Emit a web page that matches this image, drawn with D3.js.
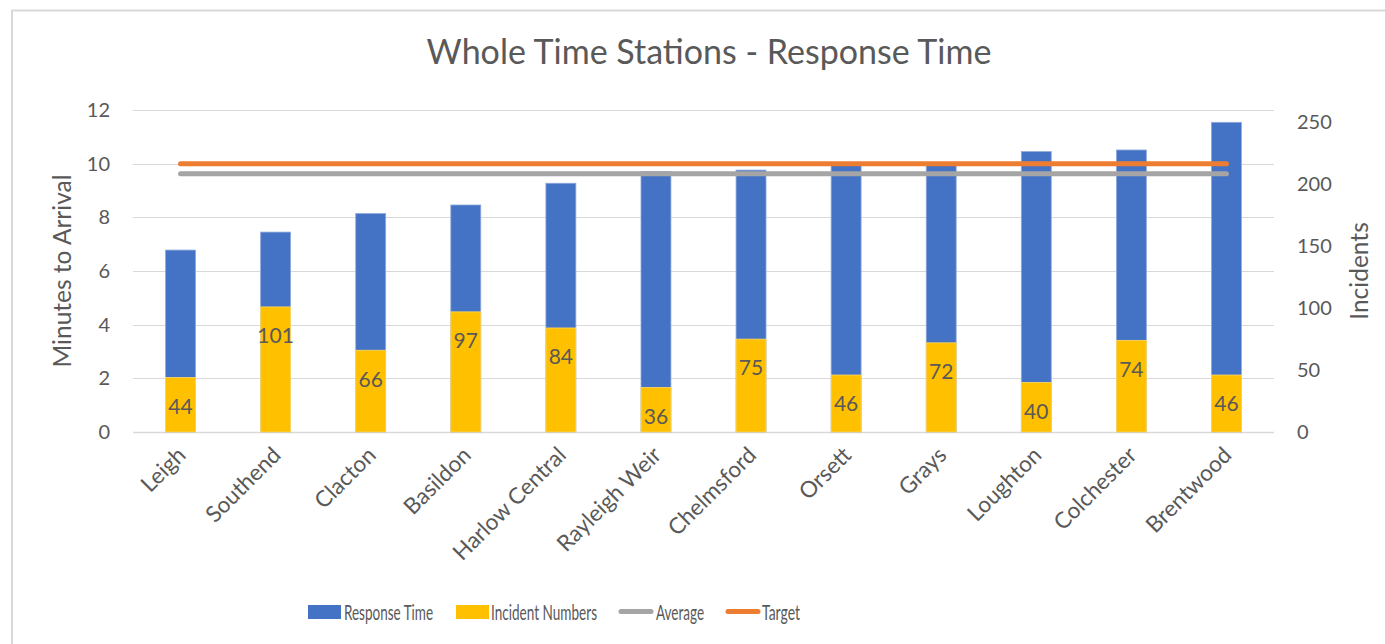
<!DOCTYPE html>
<html>
<head>
<meta charset="utf-8">
<script src="https://cdn.jsdelivr.net/npm/d3@7"></script>
<style>
  html, body { margin: 0; padding: 0; background: #fff; }
  svg { display: block; }
  text { font-family: Lato, "Open Sans", sans-serif; fill: #595959; }
</style>
</head>
<body>
<svg id="chart" width="1385" height="644"></svg>
<script>
const categories = ["Leigh", "Southend", "Clacton", "Basildon", "Harlow Central", "Rayleigh Weir",
  "Chelmsford", "Orsett", "Grays", "Loughton", "Colchester", "Brentwood"];
const responseTime = [6.78, 7.45, 8.14, 8.46, 9.27, 9.70, 9.76, 9.95, 9.98, 10.45, 10.51, 11.54];
const incidentNumbers = [44, 101, 66, 97, 84, 36, 75, 46, 72, 40, 74, 46];
const average = [9.62, 9.62, 9.62, 9.62, 9.62, 9.62, 9.62, 9.62, 9.62, 9.62, 9.62, 9.62];
const target = [10, 10, 10, 10, 10, 10, 10, 10, 10, 10, 10, 10];
const leftTicks = [0, 2, 4, 6, 8, 10, 12];
const rightTicks = [0, 50, 100, 150, 200, 250];

const colors = { resp: "#4472C4", inc: "#FFC000", avg: "#A5A5A5", tgt: "#ED7D31" };

const svg = d3.select("#chart");
const L = 133, R = 1274, T = 110, B = 432;

// border
svg.append("rect").attr("x", 12).attr("y", 10.5).attr("width", 1400).attr("height", 700)
  .attr("fill", "none").attr("stroke", "#d9d9d9").attr("stroke-width", 2);

const x = d3.scaleBand().domain(categories).range([L, R]).padding(0);
const barW = x.bandwidth() * 0.315;
const yL = d3.scaleLinear().domain([0, 12]).range([B, T]);
const yR = d3.scaleLinear().domain([0, 260]).range([B, T]);

// gridlines
svg.append("g").selectAll("line").data(leftTicks).join("line")
  .attr("x1", L).attr("x2", R)
  .attr("y1", d => Math.round(yL(d)) + 0.5).attr("y2", d => Math.round(yL(d)) + 0.5)
  .attr("stroke", "#d9d9d9").attr("stroke-width", d => d === 0 ? 1.5 : 1);

// left axis
const axL = svg.append("g").attr("transform", `translate(${L},0)`)
  .call(d3.axisLeft(yL).tickValues(leftTicks).tickSize(0).tickPadding(23));
axL.select(".domain").remove();
axL.selectAll("text").style("font-size", "20px").attr("fill", "#595959").style("font-family", "Lato");

// right axis
const axR = svg.append("g").attr("transform", `translate(${R},0)`)
  .call(d3.axisRight(yR).tickValues(rightTicks).tickSize(0).tickPadding(23));
axR.select(".domain").remove();
axR.selectAll("text").style("font-size", "20px").attr("fill", "#595959").style("font-family", "Lato");

// response time bars
svg.append("g").selectAll("rect").data(responseTime).join("rect")
  .attr("x", (d, i) => x(categories[i]) + (x.bandwidth() - barW) / 2)
  .attr("width", barW)
  .attr("y", d => yL(d)).attr("height", d => B - yL(d))
  .attr("fill", colors.resp).attr("stroke", "#8eaadb").attr("stroke-width", 0.8);

// incident bars (secondary axis)
svg.append("g").selectAll("rect").data(incidentNumbers).join("rect")
  .attr("x", (d, i) => x(categories[i]) + (x.bandwidth() - barW) / 2)
  .attr("width", barW)
  .attr("y", d => yR(d)).attr("height", d => B - yR(d))
  .attr("fill", colors.inc).attr("stroke", "#ffd966").attr("stroke-width", 0.8);

// lines
const lineGen = d3.line().x((d, i) => x(categories[i]) + x.bandwidth() / 2).y(d => yL(d));
svg.append("path").datum(average).attr("d", lineGen)
  .attr("fill", "none").attr("stroke", colors.avg).attr("stroke-width", 5).attr("stroke-linecap", "round");
svg.append("path").datum(target).attr("d", lineGen)
  .attr("fill", "none").attr("stroke", colors.tgt).attr("stroke-width", 5).attr("stroke-linecap", "round");

// data labels
svg.append("g").selectAll("text").data(incidentNumbers).join("text")
  .attr("x", (d, i) => x(categories[i]) + x.bandwidth() / 2)
  .attr("y", d => yR(d) + 29).attr("dy", "0.35em")
  .attr("text-anchor", "middle").style("font-size", "21px").attr("fill", "#404040")
  .text(d => d);

// x labels
svg.append("g").selectAll("text").data(categories).join("text")
  .attr("transform", d => `translate(${x(d) + x.bandwidth() / 2 + 1},${451}) rotate(-45)`)
  .attr("text-anchor", "end").attr("dy", "0.35em")
  .style("font-size", "22.5px").text(d => d);

// title
svg.append("text").attr("x", 709).attr("y", 64).attr("text-anchor", "middle")
  .style("font-size", "34px").text("Whole Time Stations - Response Time");

// axis titles
svg.append("text").attr("transform", `translate(71,271) rotate(-90)`)
  .attr("text-anchor", "middle").style("font-size", "24.5px").text("Minutes to Arrival");
svg.append("text").attr("transform", `translate(1368,271) rotate(-90)`)
  .attr("text-anchor", "middle").style("font-size", "24.5px").text("Incidents");

// legend
const legend = [
  { name: "Response Time", type: "rect", color: colors.resp, x: 308, tx: 344, tw: 89 },
  { name: "Incident Numbers", type: "rect", color: colors.inc, x: 456, tx: 491, tw: 106 },
  { name: "Average", type: "line", color: colors.avg, x: 621, tx: 656, tw: 48 },
  { name: "Target", type: "line", color: colors.tgt, x: 728, tx: 762, tw: 38 }
];
const lg = svg.append("g");
legend.forEach(d => {
  if (d.type === "rect") {
    lg.append("rect").attr("x", d.x).attr("y", 605).attr("width", 33).attr("height", 14).attr("fill", d.color);
  } else {
    lg.append("line").attr("x1", d.x).attr("x2", d.x + 30).attr("y1", 611.5).attr("y2", 611.5)
      .attr("stroke", d.color).attr("stroke-width", 5).attr("stroke-linecap", "round");
  }
  lg.append("text").attr("x", d.tx).attr("y", 619.5).style("font-size", "22px")
    .attr("textLength", d.tw).attr("lengthAdjust", "spacingAndGlyphs").text(d.name);
});
</script>
</body>
</html>
